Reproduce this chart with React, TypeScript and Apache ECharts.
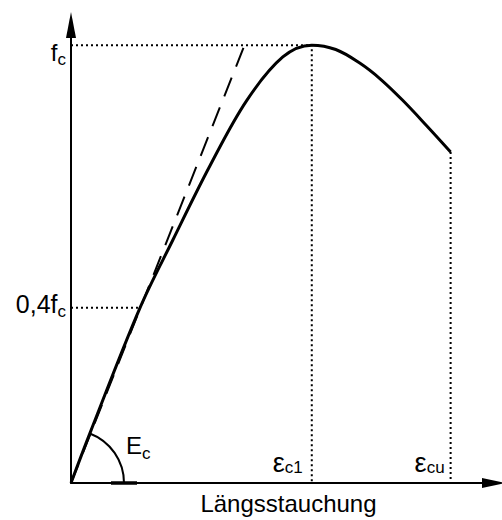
import React, { useEffect, useRef } from "react";
import * as echarts from "echarts";

// Stress–strain curve of concrete in compression (σ/fc over strain in ‰)
const strain = [0, 0.175, 0.636, 0.939, 1.28, 1.621, 1.953, 2.22, 2.441, 2.662, 2.855, 3.058, 3.279, 3.5];
const stress = [0, 0.114, 0.4, 0.555, 0.724, 0.874, 0.973, 1.0, 0.99, 0.959, 0.922, 0.874, 0.816, 0.756];

// Characteristic points
const epsC1 = 2.22;
const epsCu = 3.5;
const stressCu = 0.756;
const fcLevel = 1.0;
const lowLevel = 0.4;
const lowStrain = 0.636;

// Tangent modulus line Ec
const tangentX = [0, 1.6];
const tangentY = [0, 1.0];

const xMax = 3.9;
const yMax = 1.046;

const FONT = '"Liberation Sans", Arial, Helvetica, sans-serif';

const measureCtx = document.createElement("canvas").getContext("2d") as CanvasRenderingContext2D;
function textWidth(t: string, size: number): number {
  measureCtx.font = `${size}px ${FONT}`;
  return measureCtx.measureText(t).width;
}

// text with alphabetic baseline at y (zrender centres the text box on y for 'middle')
function txt(text: string, x: number, baseline: number, size: number, align: "left" | "right" | "center") {
  return {
    type: "text",
    x,
    y: baseline - 0.33 * size,
    silent: true,
    style: {
      text,
      fontSize: size,
      fontFamily: FONT,
      fill: "#000",
      align,
      verticalAlign: "middle",
    },
  };
}

// main symbol + subscript, either anchored at its right edge or at its left edge
function subscripted(
  main: string,
  sub: string,
  x: number,
  mainBase: number,
  subBase: number,
  mainSize: number,
  subSize: number,
  anchor: "left" | "right"
) {
  if (anchor === "right") {
    const ws = textWidth(sub, subSize);
    return [txt(sub, x, subBase, subSize, "right"), txt(main, x - ws, mainBase, mainSize, "right")];
  }
  const wm = textWidth(main, mainSize);
  return [txt(main, x, mainBase, mainSize, "left"), txt(sub, x + wm, subBase, subSize, "left")];
}

const pts = (xs: number[], ys: number[]) => xs.map((x, i) => [x, ys[i]]);

export default function App() {
  const ref = useRef<HTMLDivElement>(null);

  useEffect(() => {
    if (!ref.current) return;
    const chart = echarts.init(ref.current, undefined, { renderer: "svg" });

    const dotted = { color: "#000", width: 2, type: [2, 3] as number[] };

    chart.setOption({
      animation: false,
      backgroundColor: "#fff",
      grid: { left: 71, right: 8, top: 25, bottom: 37, containLabel: false, outerBoundsMode: "none" },
      xAxis: {
        type: "value",
        min: 0,
        max: xMax,
        axisLine: {
          show: true,
          onZero: false,
          symbol: ["none", "triangle"],
          symbolSize: [10, 24],
          lineStyle: { color: "#000", width: 2 },
        },
        axisTick: { show: false },
        axisLabel: { show: false },
        splitLine: { show: false },
        name: "Längsstauchung",
        nameLocation: "middle",
        nameGap: 8,
        nameTextStyle: { fontSize: 24, fontFamily: FONT, color: "#000", padding: [0, 0, 0, 12] },
      },
      yAxis: {
        type: "value",
        min: 0,
        max: yMax,
        axisLine: {
          show: true,
          onZero: false,
          symbol: ["none", "triangle"],
          symbolSize: [10, 26],
          lineStyle: { color: "#000", width: 2 },
        },
        axisTick: { show: false },
        axisLabel: { show: false },
        splitLine: { show: false },
      },
      series: [
        {
          type: "line",
          data: [[0, fcLevel], [epsC1, fcLevel], [epsC1, 0]],
          symbol: "none",
          lineStyle: dotted,
          silent: true,
        },
        {
          type: "line",
          data: [[0, lowLevel], [lowStrain, lowLevel]],
          symbol: "none",
          lineStyle: dotted,
          silent: true,
        },
        {
          type: "line",
          data: [[epsCu, stressCu], [epsCu, 0]],
          symbol: "none",
          lineStyle: dotted,
          silent: true,
        },
        {
          type: "line",
          data: pts(tangentX, tangentY),
          symbol: "none",
          lineStyle: { color: "#000", width: 2, type: [20, 12] },
          silent: true,
        },
        {
          type: "line",
          data: pts(strain, stress),
          symbol: "none",
          smooth: 0.35,
          lineStyle: { color: "#000", width: 3 },
          silent: true,
        },
      ],
    });

    const px = (x: number, y: number) => chart.convertToPixel({ gridIndex: 0 }, [x, y]) as number[];
    const o = px(0, 0);
    const p1 = px(strain[1], stress[1]);
    const angle = Math.atan2(p1[1] - o[1], p1[0] - o[0]);
    const fcP = px(0, fcLevel);
    const lowP = px(0, lowLevel);
    const c1P = px(epsC1, 0);
    const cuP = px(epsCu, 0);

    chart.setOption({
      graphic: [
        {
          type: "arc",
          silent: true,
          shape: { cx: o[0], cy: o[1], r: 53, startAngle: angle, endAngle: 0, clockwise: true },
          style: { stroke: "#000", lineWidth: 2, fill: "none" },
        },
        {
          type: "line",
          silent: true,
          shape: { x1: o[0] + 40, y1: o[1], x2: o[0] + 66, y2: o[1] },
          style: { stroke: "#000", lineWidth: 3.5 },
        },
        ...subscripted("f", "c", fcP[0] - 5, fcP[1] + 15, fcP[1] + 20, 24, 17, "right"),
        ...subscripted("0,4f", "c", lowP[0] - 5, lowP[1] + 4, lowP[1] + 9, 25, 17, "right"),
        ...subscripted("ε", "c1", c1P[0] - 9, c1P[1] - 11, c1P[1] - 10, 27, 17, "right"),
        ...subscripted("ε", "cu", cuP[0] - 6, cuP[1] - 11, cuP[1] - 10, 27, 17, "right"),
        ...subscripted("E", "c", o[0] + 55, o[1] - 30, o[1] - 24, 24, 17, "left"),
      ],
    });

    return () => chart.dispose();
  }, []);

  return (
    <div
      ref={ref}
      style={{ position: "absolute", left: 0, top: 0, width: 502, height: 520, background: "#fff" }}
    />
  );
}
